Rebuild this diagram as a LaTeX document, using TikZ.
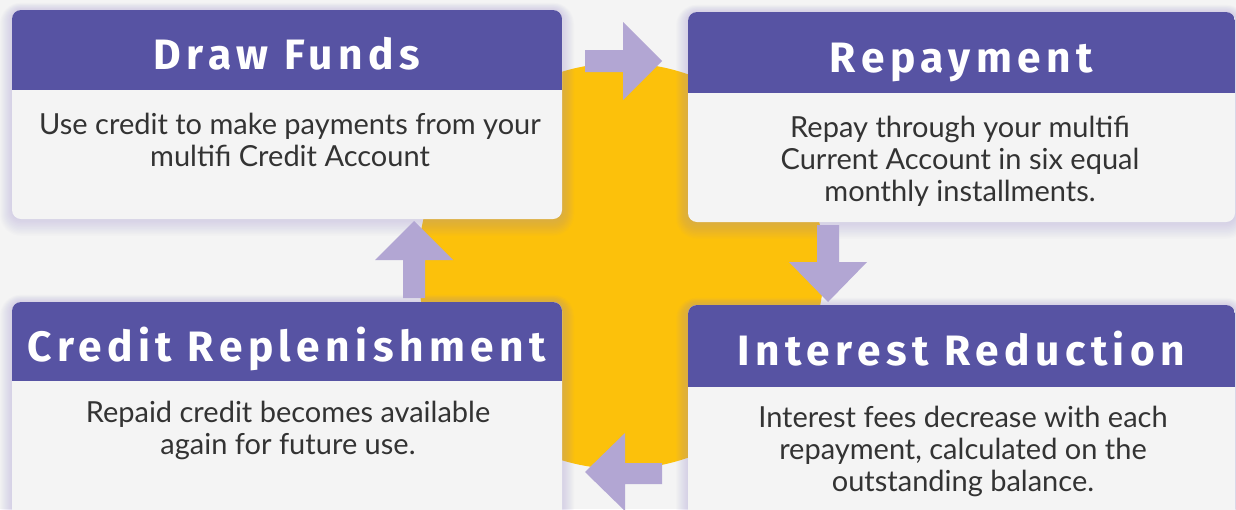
\documentclass[tikz,border=0pt]{standalone}
\usepackage{fontspec}
\setmainfont{Lato}
\newfontfamily\headfont{Fira Sans}[LetterSpace=13]
\definecolor{bgpaper}{HTML}{F4F4F4}
\definecolor{cardhead}{HTML}{5753A3}
\definecolor{flowarrow}{HTML}{B2A6D3}
\definecolor{hub}{HTML}{FCC10B}
\definecolor{bodytext}{HTML}{333333}
\definecolor{glow}{HTML}{9C90CC}

\tikzset{
  headtext/.style={text=white, font=\headfont\bfseries\fontsize{42.5}{48}\selectfont,
    inner sep=0pt, anchor=base},
  bodytextnode/.style={text=bodytext, font=\fontsize{29}{32}\selectfont,
    align=center, inner sep=0pt, anchor=north},
  arrowshape/.style={fill=flowarrow},
}

% #1 name, #2 left, #3 top, #4 right, #5 bottom, #6 header bottom,
% #7 title baseline, #8 title
\newcommand\flowcard[8]{%
  \foreach \g in {1,...,12}{%
    \fill[glow, fill opacity=0.028, rounded corners={9+\g}]
      (#2-\g, #3-\g+0.4*\g) rectangle (#4+\g, #5+\g+0.4*\g);
  }
  \fill[bgpaper, rounded corners=9pt] (#2,#3) rectangle (#4,#5);
  \begin{scope}
    \clip[rounded corners=9pt] (#2,#3) rectangle (#4,#5);
    \fill[cardhead] (#2,#3) rectangle (#4,#6);
  \end{scope}
  \node[headtext] (#1) at ({(#2+#4)/2}, #7) {#8};
}

\begin{document}
\begin{tikzpicture}[x=1pt, y=-1pt]
  \fill[bgpaper] (0,0) rectangle (1236,509);
  \useasboundingbox (0,0) rectangle (1236,509);
  \clip (0,0) rectangle (1236,509);

  % central hub
  \fill[hub] (621,266) circle[radius=203];

  % the four stages
  \flowcard{draw}{12}{10}{562}{219}{90}{69}{Draw Funds}
  \flowcard{repay}{688}{12}{1235}{222}{93}{72}{Repayment}
  \flowcard{replen}{12}{302}{562}{540}{381}{361}{Credit Replenishment}
  \flowcard{interest}{688}{305}{1235}{540}{387}{365}{Interest Reduction}

  \node[bodytextnode] (drawbody) at (290,113)
    {Use credit to make payments from your\\multifi Credit Account};
  \node[bodytextnode] (repaybody) at (960,116)
    {Repay through your multifi\\Current Account in six equal\\monthly installments.};
  \node[bodytextnode] (replenbody) at (288,401)
    {Repaid credit becomes available\\again for future use.};
  \node[bodytextnode] (interestbody) at (963,406)
    {Interest fees decrease with each\\repayment, calculated on the\\outstanding balance.};

  % block arrows of the cycle
  \fill[arrowshape] (585,50) -- (623,50) -- (623,22) -- (662,61)
    -- (623,100) -- (623,72) -- (585,72) -- cycle;
  \fill[arrowshape] (817,225) -- (839,225) -- (839,262) -- (867,262)
    -- (828,302) -- (789,262) -- (817,262) -- cycle;
  \fill[arrowshape] (662,463) -- (625,463) -- (625,433) -- (585,472)
    -- (625,511) -- (625,484) -- (662,484) -- cycle;
  \fill[arrowshape] (403,298) -- (403,260) -- (375,260) -- (414,221)
    -- (453,260) -- (425,260) -- (425,298) -- cycle;
\end{tikzpicture}
\end{document}
